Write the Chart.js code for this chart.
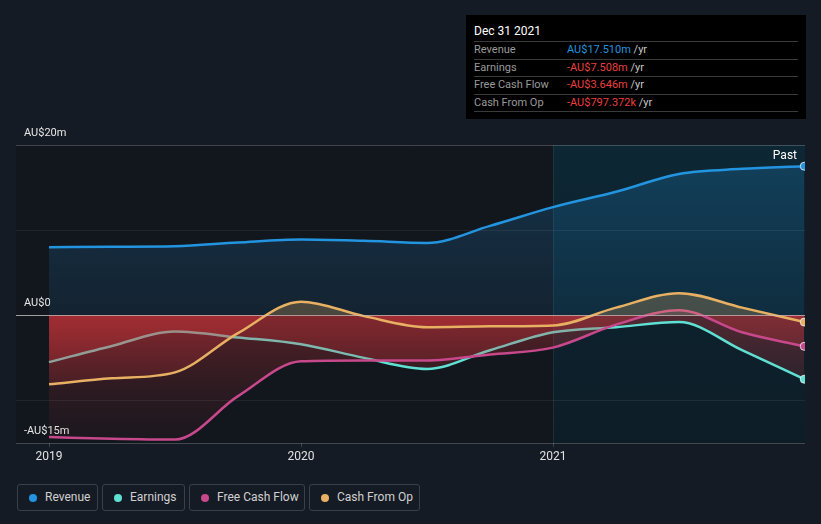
<!DOCTYPE html>
<html>
<head>
<meta charset="utf-8">
<script src="https://cdn.jsdelivr.net/npm/chart.js@4.4.1/dist/chart.umd.min.js"></script>
<style>
html,body{margin:0;padding:0;background:#151b24;width:821px;height:524px;overflow:hidden;font-family:Roboto,"Noto Sans",sans-serif;}
#wrap{position:absolute;left:0;top:0;width:821px;height:480px;}
#tip{position:absolute;left:466px;top:15px;width:340px;height:104px;background:#000;}
#tip .title{position:absolute;left:8px;top:9px;font-size:12px;line-height:14px;color:#fff;}
#tip .row{position:absolute;left:8px;width:324px;height:16.5px;border-top:1px solid #3a3a3a;font-size:11px;line-height:15px;color:#9a9a9a;}
#tip .row .v{position:absolute;left:93px;top:0;}
#tip .row .u{color:#c8c8c8;}
#tip .endline{position:absolute;left:8px;width:324px;height:0;border-top:1px solid #3a3a3a;}
.lg{position:absolute;top:484px;height:25px;border:1px solid #3a3f48;border-radius:3px;box-sizing:content-box;font-size:12px;color:#d0d0d0;line-height:25px;}
.lg .dot{position:absolute;left:11px;top:8.5px;width:8px;height:8px;border-radius:50%;}
.lg .t{position:absolute;left:27px;top:0;white-space:nowrap;}
</style>
</head>
<body>
<div id="wrap"><canvas id="c" width="821" height="480"></canvas></div>
<div id="tip"></div>
<div id="legend"></div>
<script>
// ---- data (AU$ millions) ----
const periods = [2019.0, 2019.25, 2019.5, 2019.75, 2020.0, 2020.25, 2020.5, 2020.75, 2021.0, 2021.25, 2021.5, 2021.75, 2021.997];
const revenue = [8.0, 8.05, 8.1, 8.55, 8.9, 8.75, 8.5, 10.5, 12.7, 14.5, 16.6, 17.2, 17.51];
const earnings = [-5.5, -3.6, -1.9, -2.6, -3.4, -5.0, -6.3, -4.1, -2.0, -1.4, -0.8, -4.1, -7.508];
const freeCashFlow = [-14.3, -14.5, -14.6, -9.5, -5.4, -5.3, -5.3, -4.6, -3.8, -1.1, 0.6, -2.0, -3.646];
const cashFromOps = [-8.1, -7.4, -6.7, -2.1, 1.6, -0.1, -1.4, -1.3, -1.2, 0.9, 2.6, 0.9, -0.797];

const seriesNames = ['Revenue', 'Earnings', 'Free Cash Flow', 'Cash From Op'];
const seriesColors = ['#2394df', '#5fe0d2', '#c7488b', '#e8b062'];

const xTickValues = [2019, 2020, 2021];
const xTickLabels = ['2019', '2020', '2021'];
const yTickValues = [-15, -10, 0, 10, 20];
const yTickLabels = ['-AU$15m', '', 'AU$0', '', 'AU$20m'];

const pastStart = 2021;
const tipTitle = 'Dec 31 2021';
const tipValues = ['AU$17.510m', '-AU$7.508m', '-AU$3.646m', '-AU$797.372k'];
const tipValueColors = ['#2394df', '#ec3f3f', '#ec3f3f', '#ec3f3f'];

// ---- tooltip box ----
const tip = document.getElementById('tip');
let html = '<div class="title">' + tipTitle + '</div>';
seriesNames.forEach((n, i) => {
  html += '<div class="row" style="top:' + (26 + 17.5 * i) + 'px">' + n +
    '<span class="v"><span style="color:' + tipValueColors[i] + '">' + tipValues[i] + '</span> <span class="u">/yr</span></span></div>';
});
html += '<div class="endline" style="top:96px"></div>';
tip.innerHTML = html;

// ---- legend ----
const lgLeft = [17, 102, 189, 309];
const lgWidth = [79, 81, 114, 109];
const legend = document.getElementById('legend');
legend.innerHTML = seriesNames.map((n, i) =>
  '<div class="lg" style="left:' + lgLeft[i] + 'px;width:' + lgWidth[i] + 'px"><span class="dot" style="background:' + seriesColors[i] + '"></span><span class="t">' + n + '</span></div>'
).join('');

// ---- chart ----
const allSeries = [revenue, earnings, freeCashFlow, cashFromOps];
const lastIdx = periods.length - 1;

const bgPlugin = {
  id: 'bg',
  beforeDraw(chart) {
    const {ctx, chartArea: a, scales: {x}} = chart;
    ctx.save();
    ctx.fillStyle = '#12161d';
    ctx.fillRect(a.left, a.top, a.width, a.height);
    const xs = x.getPixelForValue(pastStart);
    const g = ctx.createLinearGradient(0, a.top, 0, a.bottom);
    g.addColorStop(0, '#0d2734');
    g.addColorStop(1, '#0d1d27');
    ctx.fillStyle = g;
    ctx.fillRect(xs, a.top, a.right - xs, a.height);
    ctx.strokeStyle = 'rgba(255,255,255,0.07)';
    ctx.lineWidth = 1;
    ctx.beginPath();
    ctx.moveTo(Math.round(xs) + 0.5, a.top);
    ctx.lineTo(Math.round(xs) + 0.5, a.bottom);
    ctx.stroke();
    ctx.restore();
  },
  afterDatasetsDraw(chart) {
    const {ctx, chartArea: a, scales: {y}} = chart;
    const y0 = Math.round(y.getPixelForValue(0)) + 0.5;
    ctx.save();
    ctx.strokeStyle = 'rgba(200,200,200,0.55)';
    ctx.lineWidth = 1;
    ctx.beginPath();
    ctx.moveTo(a.left, y0);
    ctx.lineTo(a.right, y0);
    ctx.stroke();
    ctx.restore();
  },
  afterDraw(chart) {
    const {ctx, chartArea: a} = chart;
    ctx.save();
    ctx.font = '12px Roboto, "Noto Sans", sans-serif';
    ctx.fillStyle = '#ffffff';
    ctx.textAlign = 'right';
    ctx.textBaseline = 'middle';
    ctx.fillText('Past', a.right - 8, a.top + 11);
    ctx.restore();
  }
};

const datasets = seriesNames.map((name, i) => ({
  label: name,
  data: periods.map((p, j) => ({x: p, y: allSeries[i][j]})),
  borderColor: seriesColors[i],
  backgroundColor: 'rgba(0,0,0,0)',
  borderWidth: 2.5,
  cubicInterpolationMode: 'monotone',
  fill: {target: 'origin', above: 'rgba(0,0,0,0)', below: 'rgba(0,0,0,0)'},
  pointRadius: ctx => ctx.dataIndex === lastIdx ? 4 : 0,
  pointHoverRadius: 0,
  pointBackgroundColor: seriesColors[i],
  pointBorderColor: 'rgba(235,235,245,0.85)',
  pointBorderWidth: 1,
  order: seriesNames.length - i,
  clip: 0
}));

const chart = new Chart(document.getElementById('c'), {
  type: 'line',
  data: {datasets},
  options: {
    responsive: false,
    devicePixelRatio: 1,
    animation: false,
    events: [],
    layout: {padding: {left: 16, right: 16, top: 145, bottom: 7}},
    plugins: {legend: {display: false}, tooltip: {enabled: false}},
    scales: {
      x: {
        type: 'linear',
        min: 2018.869,
        max: 2022,
        afterBuildTicks: s => { s.ticks = xTickValues.map(v => ({value: v})); },
        afterFit: s => { s.height = 30; },
        ticks: {color: '#e2e2e2', font: {size: 12, family: 'Roboto'}, padding: 3, maxRotation: 0, autoSkip: false,
          callback: (v, i) => xTickLabels[i]},
        grid: {drawOnChartArea: false, drawTicks: true, tickLength: 4, color: '#3a3f48'},
        border: {display: false}
      },
      y: {
        min: -15,
        max: 20,
        afterBuildTicks: s => { s.ticks = yTickValues.map(v => ({value: v})); },
        afterFit: s => { s.width = 0; },
        ticks: {mirror: true, padding: 8, labelOffset: -12, color: '#e6e6e6', font: {size: 11, family: 'Roboto'}, autoSkip: false,
          callback: (v, i) => yTickLabels[i]},
        grid: {drawTicks: false, lineWidth: 1,
          color: c => {
            const v = c.tick ? c.tick.value : null;
            if (v === 20 || v === -15) return 'rgba(255,255,255,0.2)';
            if (v === 0) return 'rgba(200,200,200,0.5)';
            return 'rgba(255,255,255,0.07)';
          }},
        border: {display: false}
      }
    }
  },
  plugins: [bgPlugin]
});

// gradient fills built from the scales
(function applyFills() {
  const ctx = chart.ctx;
  const y = chart.scales.y;
  const y0 = y.getPixelForValue(0), yLo = y.getPixelForValue(-15), yHi = y.getPixelForValue(20);
  const red = ctx.createLinearGradient(0, y0, 0, yLo);
  red.addColorStop(0, 'rgba(225,55,60,0.32)');
  red.addColorStop(0.6, 'rgba(225,55,60,0.12)');
  red.addColorStop(1, 'rgba(225,55,60,0.04)');
  const blue = ctx.createLinearGradient(0, yHi, 0, y0);
  blue.addColorStop(0, 'rgba(35,148,223,0.24)');
  blue.addColorStop(1, 'rgba(35,148,223,0.10)');
  const aboveCols = [blue, 'rgba(95,224,210,0.15)', 'rgba(199,72,139,0.18)', 'rgba(232,176,98,0.25)'];
  chart.data.datasets.forEach((d, i) => {
    d.fill = {target: 'origin', above: aboveCols[i], below: red};
  });
  chart.update('none');
})();
</script>
</body>
</html>
